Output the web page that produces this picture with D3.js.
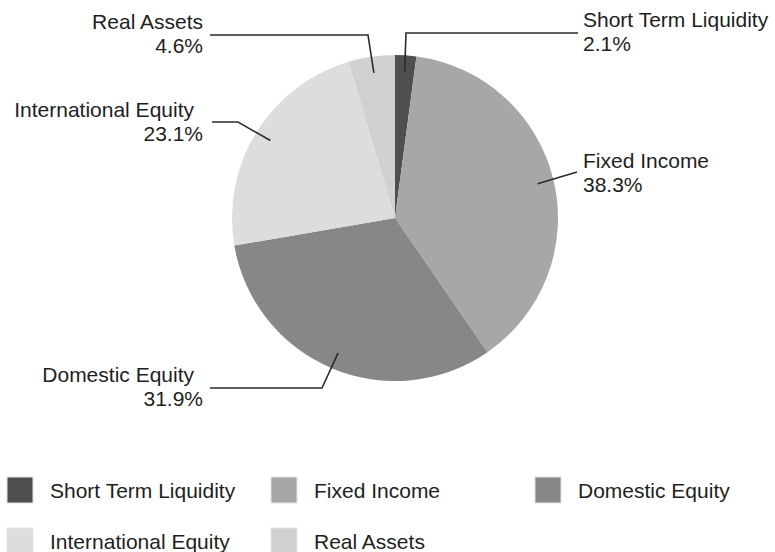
<!DOCTYPE html>
<html>
<head>
<meta charset="utf-8">
<script src="https://cdn.jsdelivr.net/npm/d3@7"></script>
<style>
  body { margin: 0; background: #fff; }
  svg text { font-family: "Liberation Sans", Arial, sans-serif; fill: #1e1e1e; }
</style>
</head>
<body>
<div id="chart"></div>
<script>
// asset allocation, clockwise from 12 o'clock
var categories = ["Short Term Liquidity", "Fixed Income", "Domestic Equity", "International Equity", "Real Assets"];
var shares = [2.1, 38.3, 31.9, 23.1, 4.6];
var pctLabels = ["2.1%", "38.3%", "31.9%", "23.1%", "4.6%"];

var greys = ["#4f4f4f", "#a7a7a7", "#878787", "#dddddd", "#d1d1d1"];

var width = 775, height = 552;
var cx = 395, cy = 218, radius = 163;
var fontSize = 21, lineGap = 23.5;

var svg = d3.select("#chart").append("svg")
    .attr("width", width)
    .attr("height", height);

var data = categories.map(function(c, i){ return {name: c, value: shares[i], pct: pctLabels[i]}; });

var color = d3.scaleOrdinal().domain(categories).range(greys);

var pie = d3.pie().sort(null).value(function(d){ return d.value; });
var arc = d3.arc().innerRadius(0).outerRadius(radius);
var anchorArc = d3.arc().innerRadius(radius * 0.9).outerRadius(radius * 0.9);

var g = svg.append("g").attr("transform", "translate(" + cx + "," + cy + ")");

var slices = pie(data);

g.selectAll(".slice")
    .data(slices)
    .enter().append("path")
    .attr("class", "slice")
    .attr("d", arc)
    .style("fill", function(d){ return color(d.data.name); });

// label layout (leader elbows and text spots are placed like the original)
var labelLayout = {
    "Short Term Liquidity": {side: "right", elbow: [406, 33], lineEnd: 578, tx: 583, ty: 27},
    "Fixed Income":         {side: "right", elbow: null,      lineEnd: [577, 172], tx: 583, ty: 168},
    "Domestic Equity":      {side: "left",  elbow: [322, 388], lineEnd: 210, tx: 194, px: 203, ty: 382},
    "International Equity": {side: "left",  elbow: [238, 122], lineEnd: 212, tx: 194, px: 203, ty: 117},
    "Real Assets":          {side: "left",  elbow: [368, 35],  lineEnd: 210, tx: 203, px: 203, ty: 29}
};

var labels = svg.append("g").attr("class", "labels");

slices.forEach(function(d){
    var L = labelLayout[d.data.name];
    var a = anchorArc.centroid(d);
    var ax = cx + a[0], ay = cy + a[1];
    var pts;
    if (L.elbow) {
        pts = [[ax, ay], L.elbow, [L.lineEnd, L.elbow[1]]];
    } else {
        pts = [[ax, ay], L.lineEnd];
    }
    labels.append("path")
        .attr("d", d3.line()(pts))
        .style("fill", "none")
        .style("stroke", "#2a2a2a")
        .style("stroke-width", 1.6);

    var anchor = L.side === "left" ? "end" : "start";
    labels.append("text")
        .attr("x", L.tx)
        .attr("y", L.ty)
        .attr("text-anchor", anchor)
        .style("font-size", fontSize + "px")
        .text(d.data.name);
    labels.append("text")
        .attr("x", L.side === "left" ? L.px : L.tx)
        .attr("y", L.ty + lineGap)
        .attr("text-anchor", anchor)
        .style("font-size", fontSize + "px")
        .text(d.data.pct);
});

/////////////legend//////////////
var legendCols = [7, 271, 535], legendRows = [477, 528];
var sw = 26;

var legend = svg.append("g").attr("class", "legend")
    .selectAll("g")
    .data(data)
    .enter().append("g")
    .attr("transform", function(d, i){
        return "translate(" + legendCols[i % 3] + "," + legendRows[Math.floor(i / 3)] + ")";
    });

legend.append("rect")
    .attr("width", sw)
    .attr("height", sw)
    .style("fill", function(d){ return color(d.name); })
    .style("stroke", "#e4e4e4")
    .style("stroke-width", 1);

legend.append("text")
    .attr("x", 43)
    .attr("y", 21)
    .style("font-size", fontSize + "px")
    .text(function(d){ return d.name; });
</script>
</body>
</html>
